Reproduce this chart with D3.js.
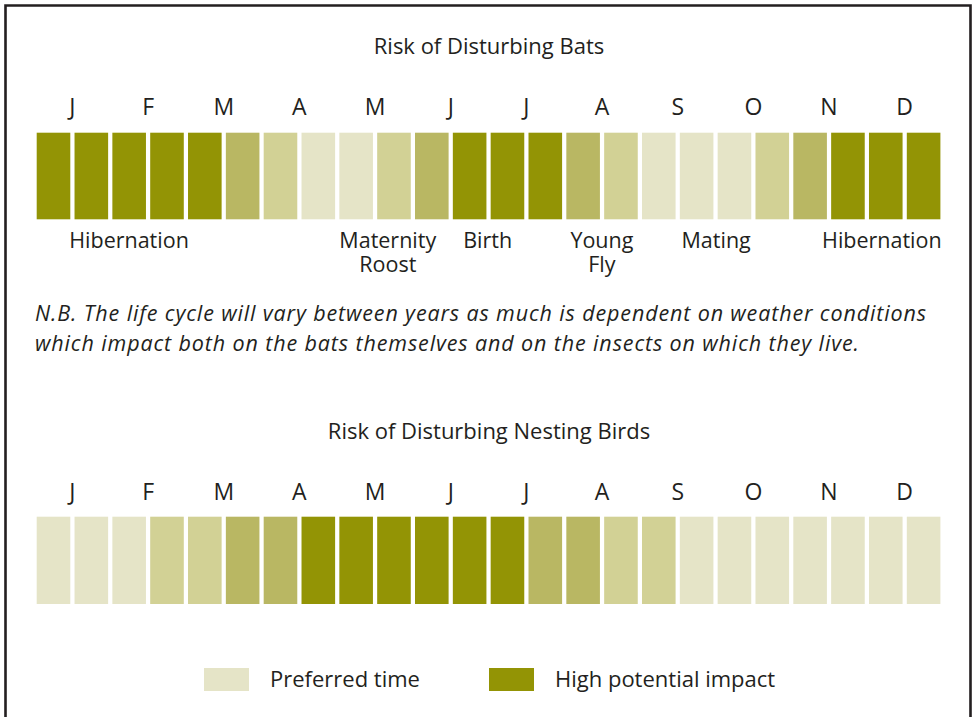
<!DOCTYPE html>
<html>
<head>
<meta charset="utf-8">
<script src="https://cdn.jsdelivr.net/npm/d3@7"></script>
<style>
  html, body { margin: 0; padding: 0; background: #fff; }
  svg { display: block; }
  text { font-family: "Open Sans", "Noto Sans", sans-serif; fill: #231f20; }
</style>
</head>
<body>
<svg id="chart" width="972" height="717"></svg>
<script>
// ---- data ----
const months = ["J", "F", "M", "A", "M", "J", "J", "A", "S", "O", "N", "D"];
// 24 half-month periods; risk level 1 (preferred) .. 4 (high impact)
const batRisk = [4, 4, 4, 4, 4, 3, 2, 1, 1, 2, 3, 4, 4, 4, 3, 2, 1, 1, 1, 2, 3, 4, 4, 4];
const birdRisk = [1, 1, 1, 2, 2, 3, 3, 4, 4, 4, 4, 4, 4, 3, 3, 2, 2, 1, 1, 1, 1, 1, 1, 1];
// life-cycle stage labels with their position in months (0 = start of Jan)
const stageLabels = [["Hibernation"], ["Maternity", "Roost"], ["Birth"], ["Young", "Fly"], ["Mating"], ["Hibernation"]];
const stageMonth = [1.22, 4.64, 5.96, 7.47, 8.98, 11.17];
const legendLabels = ["Preferred time", "High potential impact"];
const legendLevels = [1, 4];
const titles = ["Risk of Disturbing Bats", "Risk of Disturbing Nesting Birds"];
const noteLines = [
  "N.B. The life cycle will vary between years as much is dependent on weather conditions",
  "which impact both on the bats themselves and on the insects on which they live."
];

// ---- drawing ----
const svg = d3.select("#chart");
const periods = d3.range(24);

const x = d3.scaleBand().domain(periods).range([36.7, 940.4]).paddingInner(0.112).paddingOuter(0);
const monthScale = d3.scaleLinear().domain([0, 12]).range([x(0), x(23) + x.step()]);
const color = d3.scaleOrdinal().domain([1, 2, 3, 4]).range(["#e5e4c7", "#d2d195", "#b9b763", "#939405"]);

// frame
svg.append("path")
  .attr("d", "M5.5,730 V5.5 H970.5 V730")
  .attr("fill", "none")
  .attr("stroke", "#231f20")
  .attr("stroke-width", 2.6);

function drawPanel(title, titleY, monthY, barY, barH, data) {
  svg.append("text")
    .attr("x", 489).attr("y", titleY)
    .attr("text-anchor", "middle")
    .attr("font-size", 22)
    .text(title);

  svg.append("g").selectAll("text")
    .data(months)
    .join("text")
    .attr("x", (d, i) => (x(2 * i) + x(2 * i + 1) + x.bandwidth()) / 2)
    .attr("y", monthY)
    .attr("text-anchor", "middle")
    .attr("font-size", 23)
    .text(d => d);

  svg.append("g").selectAll("rect")
    .data(data)
    .join("rect")
    .attr("x", (d, i) => x(i))
    .attr("y", barY)
    .attr("width", x.bandwidth())
    .attr("height", barH)
    .attr("fill", d => color(d));
}

drawPanel(titles[0], 54, 115, 132.7, 86.6, batRisk);
drawPanel(titles[1], 439, 500, 516.7, 87.3, birdRisk);

// stage labels
const stages = svg.append("g").selectAll("text")
  .data(stageLabels)
  .join("text")
  .attr("text-anchor", "middle")
  .attr("font-size", 21.5)
  .attr("transform", (d, i) => `translate(${monthScale(stageMonth[i])},248)`);
stages.selectAll("tspan")
  .data(d => d)
  .join("tspan")
  .attr("x", 0)
  .attr("y", (d, i) => i * 24)
  .text(d => d);

// note
const noteWidths = [891, 824];
svg.append("g").selectAll("text")
  .data(noteLines)
  .join("text")
  .attr("x", 35)
  .attr("y", (d, i) => 321 + i * 29.5)
  .attr("font-size", 21.5)
  .attr("font-style", "italic")
  .attr("textLength", (d, i) => noteWidths[i])
  .attr("lengthAdjust", "spacing")
  .text(d => d);

// legend
const legendX = [204, 489];
const lg = svg.append("g").selectAll("g")
  .data(legendLabels)
  .join("g")
  .attr("transform", (d, i) => `translate(${legendX[i]},668)`);
lg.append("rect")
  .attr("width", 45).attr("height", 23)
  .attr("fill", (d, i) => color(legendLevels[i]));
lg.append("text")
  .attr("x", 66).attr("y", 19)
  .attr("font-size", 22)
  .text(d => d);
</script>
</body>
</html>
